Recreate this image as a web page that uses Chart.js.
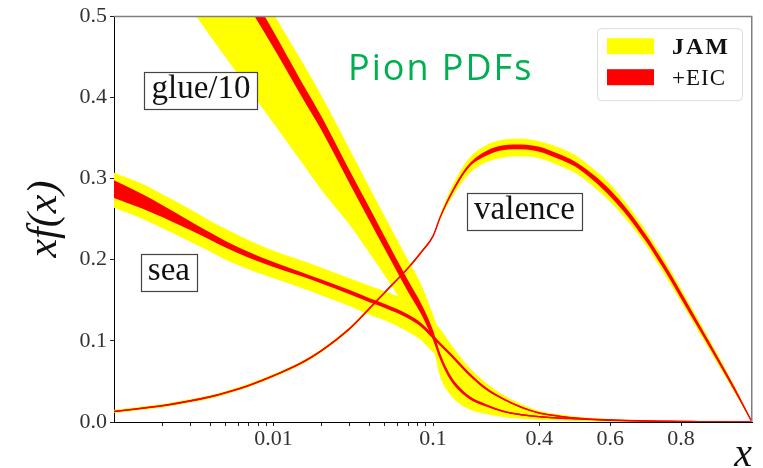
<!DOCTYPE html>
<html>
<head>
<meta charset="utf-8">
<script src="https://cdn.jsdelivr.net/npm/chart.js@4.4.1/dist/chart.umd.min.js"></script>
<style>
html,body{margin:0;padding:0;background:#fff;}
#wrap{width:763px;height:468px;position:relative;}
</style>
</head>
<body>
<div id="wrap"><canvas id="c" width="763" height="468"></canvas></div>
<script>
// ---------------- data ----------------
const xs = [0.001,0.0015,0.002,0.003,0.004,0.005,0.007,0.01,0.015,0.02,0.03,0.04,0.05,0.07,0.085,0.1,
            0.12,0.15,0.2,0.25,0.3,0.35,0.4,0.45,0.5,0.55,0.6,0.65,0.7,0.75,0.8,0.85,0.9,0.95,1.0];

// glue/10
const glueMid   = [0.80,0.74,0.70,0.649,0.607,0.573,0.523,0.471,0.41,0.368,0.302,0.256,0.22,0.167,0.138,0.107,
                   0.081,0.054,0.031,0.0205,0.013,0.009,0.0065,0.005,0.004,0.003,0.0022,0.0016,0.0012,0.0009,0.0006,0.0004,0.0002,0.0001,0];
const glueJamLo = [0.64,0.592,0.558,0.51,0.476,0.4495,0.41,0.368,0.32,0.286,0.243,0.208,0.18,0.138,0.118,0.092,
                   0.056,0.033,0.016,0.010,0.006,0.004,0.0025,0.0018,0.0012,0.0009,0.0006,0.0004,0.0003,0.0002,0.0001,0.0001,0,0,0];
const glueJamHi = [0.83,0.77,0.73,0.68,0.64,0.605,0.553,0.503,0.445,0.402,0.336,0.289,0.253,0.199,0.168,0.132,
                   0.108,0.078,0.05,0.034,0.023,0.016,0.011,0.008,0.006,0.0045,0.0033,0.0024,0.0017,0.0012,0.0008,0.0005,0.0003,0.0001,0];
const glueEicLo = [0.788,0.728,0.688,0.637,0.595,0.561,0.512,0.461,0.401,0.3595,0.294,0.248,0.2125,0.160,0.1315,0.101,
                   0.077,0.051,0.029,0.019,0.012,0.008,0.0057,0.0043,0.0035,0.0026,0.0019,0.0014,0.001,0.0008,0.0005,0.0003,0.0001,0,0];
const glueEicHi = [0.812,0.752,0.712,0.661,0.619,0.585,0.534,0.481,0.419,0.3765,0.310,0.264,0.2275,0.174,0.1445,0.113,
                   0.085,0.057,0.033,0.022,0.014,0.010,0.0073,0.0057,0.0045,0.0034,0.0025,0.0018,0.0014,0.001,0.0007,0.0005,0.0003,0.0002,0];

// sea
const seaMid   = [0.287,0.272,0.26,0.242,0.229,0.219,0.206,0.194,0.182,0.173,0.16,0.15,0.143,0.13,0.119,0.105,
                  0.096,0.083,0.06,0.041,0.028,0.018,0.011,0.0075,0.0048,0.0033,0.0025,0.0018,0.0012,0.0008,0.0005,0.0003,0.0002,0.0001,0];
const seaJamLo = [0.264,0.2505,0.239,0.222,0.21,0.2,0.188,0.177,0.165,0.156,0.143,0.132,0.125,0.111,0.1,0.086,
                  0.08,0.07,0.05,0.033,0.022,0.014,0.008,0.0052,0.003,0.002,0.0015,0.001,0.0007,0.0004,0.0002,0.0001,0.0001,0,0];
const seaJamHi = [0.307,0.2935,0.281,0.262,0.248,0.238,0.224,0.211,0.199,0.19,0.177,0.168,0.161,0.149,0.138,0.124,
                  0.115,0.096,0.068,0.048,0.033,0.022,0.014,0.0098,0.0068,0.0048,0.0035,0.0026,0.0018,0.0012,0.0008,0.0005,0.0003,0.0002,0];
const seaEicLo = [0.276,0.263,0.2525,0.2365,0.2245,0.215,0.2025,0.191,0.1795,0.1705,0.1575,0.1475,0.1405,0.1275,0.1165,0.1025,
                  0.094,0.081,0.058,0.0395,0.027,0.017,0.0102,0.0068,0.0042,0.0028,0.0021,0.0015,0.001,0.0006,0.0004,0.0002,0.0001,0,0];
const seaEicHi = [0.298,0.281,0.2675,0.2475,0.2335,0.223,0.2095,0.197,0.1845,0.1755,0.1625,0.1525,0.1455,0.1325,0.1215,0.1075,
                  0.098,0.085,0.062,0.0425,0.029,0.019,0.0118,0.0082,0.0054,0.0038,0.0029,0.0021,0.0014,0.001,0.0006,0.0004,0.0003,0.0002,0];

// valence
const valMid   = [0.013,0.017,0.02,0.026,0.031,0.036,0.045,0.057,0.073,0.088,0.115,0.14,0.16,0.19,0.21,0.229,
                  0.252,0.28,0.315,0.331,0.338,0.339,0.336,0.328,0.318,0.302,0.282,0.257,0.227,0.193,0.156,0.118,0.08,0.041,0];
const valJamLo = [0.011,0.015,0.018,0.024,0.029,0.034,0.043,0.055,0.071,0.086,0.113,0.138,0.158,0.188,0.2085,0.228,
                  0.249,0.274,0.305,0.32,0.326,0.327,0.325,0.317,0.307,0.291,0.271,0.247,0.218,0.184,0.148,0.111,0.074,0.037,0];
const valJamHi = [0.015,0.019,0.022,0.028,0.033,0.038,0.047,0.059,0.075,0.09,0.117,0.142,0.162,0.192,0.2115,0.230,
                  0.255,0.287,0.324,0.341,0.348,0.349,0.346,0.339,0.329,0.313,0.293,0.267,0.236,0.202,0.164,0.125,0.086,0.045,0.001];
const valEicLo = [0.012,0.016,0.019,0.025,0.030,0.035,0.044,0.056,0.072,0.087,0.114,0.139,0.159,0.189,0.209,0.228,
                  0.251,0.278,0.313,0.328,0.335,0.336,0.333,0.325,0.315,0.2985,0.278,0.253,0.223,0.189,0.152,0.1145,0.077,0.0385,0];
const valEicHi = [0.014,0.018,0.021,0.027,0.032,0.037,0.046,0.058,0.074,0.089,0.116,0.141,0.161,0.191,0.211,0.230,
                  0.253,0.282,0.317,0.334,0.341,0.342,0.339,0.331,0.321,0.3055,0.286,0.261,0.231,0.197,0.16,0.1215,0.083,0.0435,0];

// axes
const xTickValues = [0.01, 0.1, 0.4, 0.6, 0.8];
const xTickLabels = ['0.01', '0.1', '0.4', '0.6', '0.8'];
const xMinorTicks = [0.002,0.003,0.004,0.005,0.006,0.007,0.008,0.009,0.02,0.03,0.04,0.05,0.06,0.07,0.08,0.09];
const yTickValues = [0, 0.1, 0.2, 0.3, 0.4, 0.5];
const yTickLabels = ['0.0', '0.1', '0.2', '0.3', '0.4', '0.5'];

// text
const legendItems = [{label:'JAM', color:'#ffff00', bold:true}, {label:'+EIC', color:'#ff0000', bold:false}];
const curveNotes = [
  {text:'glue/10', x:0.00351, y:0.408},
  {text:'sea',     x:0.00221, y:0.184},
  {text:'valence', x:0.358,   y:0.259}
];
const plotTitle = 'Pion PDFs';

// ---------------- axis mapping: log below 0.1, linear above ----------------
function u(x){ return x <= 0.1 ? Math.log10(x) + 3 : 2 + (x - 0.1) / 0.45; }
function pts(arr){ return xs.map((x, i) => ({x: u(x), y: arr[i]})); }

const xTicksAll = xMinorTicks.map(v => [v, ''])
  .concat(xTickValues.map((v, i) => [v, xTickLabels[i]]))
  .sort((a, b) => a[0] - b[0]);

const datasets = [];
function add(ds){ datasets.push(ds); return datasets.length - 1; }
const base = {pointRadius:0, pointHoverRadius:0, cubicInterpolationMode:'monotone', capBezierPoints:false,
              borderWidth:0, borderColor:'rgba(0,0,0,0)'};

const YELLOW = '#ffff00', RED = '#ff0000';
[[glueJamLo, glueJamHi], [seaJamLo, seaJamHi], [valJamLo, valJamHi]].forEach(([lo, hi]) => {
  const i = add({...base, data: pts(lo), fill:false, order:3});
  add({...base, data: pts(hi), fill:i, backgroundColor:YELLOW, order:3});
});
[[glueEicLo, glueEicHi], [seaEicLo, seaEicHi], [valEicLo, valEicHi]].forEach(([lo, hi]) => {
  const i = add({...base, data: pts(lo), fill:false, order:2});
  add({...base, data: pts(hi), fill:i, backgroundColor:RED, order:2});
});
[glueMid, seaMid, valMid].forEach(m => {
  add({...base, data: pts(m), fill:false, borderColor:RED, borderWidth:1.5, order:1});
});

const SERIF = '"Liberation Serif", "Times New Roman", serif';

const overlay = {
  id: 'overlay',
  afterDraw(chart){
    const {ctx, chartArea:a} = chart;
    const sx = chart.scales.x, sy = chart.scales.y;
    ctx.save();
    // top / right frame
    ctx.strokeStyle = '#7f7f7f'; ctx.lineWidth = 1.5;
    ctx.beginPath();
    ctx.moveTo(a.left, a.top + 0.25); ctx.lineTo(a.right - 0.25, a.top + 0.25); ctx.lineTo(a.right - 0.25, a.bottom);
    ctx.stroke();

    // curve labels
    ctx.font = '33px ' + SERIF;
    ctx.textAlign = 'center'; ctx.textBaseline = 'alphabetic';
    curveNotes.forEach(n => {
      const cx = sx.getPixelForValue(u(n.x)), cy = sy.getPixelForValue(n.y);
      const tw = ctx.measureText(n.text).width;
      const w = Math.round(tw + 14), h = 37;
      const l = Math.round(cx - w / 2) + 0.5, t = Math.round(cy - h / 2) + 0.5;
      ctx.fillStyle = '#fff'; ctx.fillRect(l, t, w, h);
      ctx.strokeStyle = '#444'; ctx.lineWidth = 1.2; ctx.strokeRect(l, t, w, h);
      ctx.fillStyle = '#111';
      ctx.fillText(n.text, cx, t + 25);
    });

    // legend
    const lx = a.right - 155, ly = a.top + 12;
    ctx.beginPath();
    ctx.roundRect(lx + 0.5, ly + 0.5, 145, 72, 4);
    ctx.fillStyle = 'rgba(255,255,255,0.9)'; ctx.fill();
    ctx.strokeStyle = '#dcdcdc'; ctx.lineWidth = 1; ctx.stroke();
    legendItems.forEach((it, k) => {
      const yy = ly + 10 + k * 31;
      ctx.fillStyle = it.color; ctx.fillRect(lx + 10, yy, 47, 16);
      ctx.fillStyle = '#111'; ctx.textAlign = 'left'; ctx.textBaseline = 'alphabetic';
      ctx.font = (it.bold ? 'bold 24px ' : '23px ') + SERIF;
      ctx.letterSpacing = it.bold ? '2px' : '1px';
      ctx.fillText(it.label, lx + 75, yy + 16);
    });

    // title
    ctx.font = '36px "Open Sans", "Noto Sans", sans-serif';
    ctx.letterSpacing = '2px';
    ctx.fillStyle = '#00b050'; ctx.textAlign = 'left';
    ctx.fillText(plotTitle, a.left + 234, a.top + 64);
    ctx.letterSpacing = '0px';
    ctx.restore();
  }
};

new Chart(document.getElementById('c'), {
  type: 'line',
  data: {datasets},
  options: {
    responsive: false, animation: false, devicePixelRatio: 1,
    parsing: false, normalized: true,
    layout: {padding: {top: 14, right: 11, left: 0, bottom: 0}},
    plugins: {legend: {display: false}, tooltip: {enabled: false}, filler: {propagate: false}},
    events: [],
    scales: {
      x: {
        type: 'linear', min: 0, max: 4,
        afterBuildTicks(s){ s.ticks = xTicksAll.map(t => ({value: u(t[0])})); },
        afterFit(s){ s.height = 46; },
        ticks: {autoSkip: false, maxRotation: 0, minRotation: 0, padding: 2, color: '#333',
                font: {family: SERIF, size: 22, lineHeight: 1},
                callback(v, i){ return xTicksAll[i] ? xTicksAll[i][1] : ''; }},
        grid: {drawOnChartArea: false, drawTicks: true, tickLength: 4, tickColor: '#222', tickWidth: 1},
        border: {display: true, color: '#000', width: 1},
        title: {display: true, text: 'x', align: 'end', color: '#111',
                font: {family: SERIF, style: 'italic', size: 40, lineHeight: 1}, padding: {top: 0, bottom: -7}}
      },
      y: {
        type: 'linear', min: 0, max: 0.5,
        afterBuildTicks(s){ s.ticks = yTickValues.map(v => ({value: v})); },
        afterFit(s){ s.width = 114; },
        ticks: {padding: 3, color: '#333', font: {family: SERIF, size: 22},
                callback(v, i){ return yTickLabels[i]; }},
        grid: {drawOnChartArea: false, drawTicks: true, tickLength: 4, tickColor: '#222', tickWidth: 1},
        border: {display: true, color: '#000', width: 1},
        title: {display: true, text: 'xf(x)', color: '#111',
                font: {family: SERIF, style: 'italic', size: 42}, padding: {top: 20, bottom: 0}}
      }
    }
  },
  plugins: [overlay]
});
</script>
</body>
</html>
